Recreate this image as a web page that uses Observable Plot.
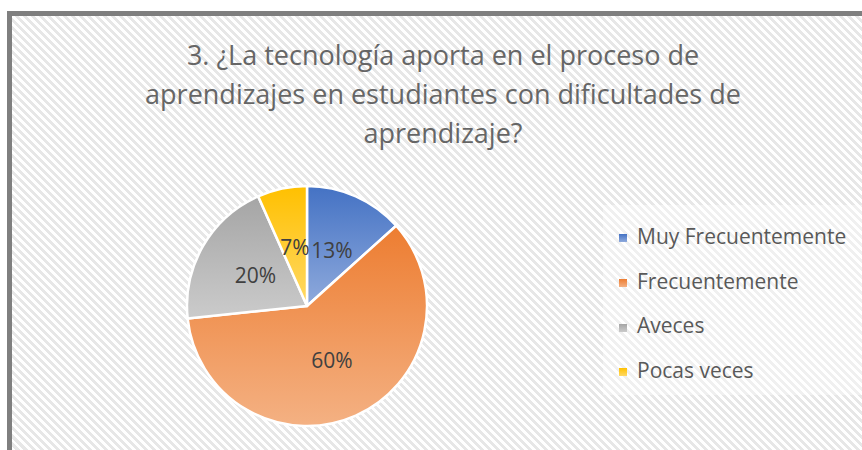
<!DOCTYPE html>
<html><head><meta charset="utf-8">
<script src="https://cdn.jsdelivr.net/npm/d3@7"></script>
<script src="https://cdn.jsdelivr.net/npm/@observablehq/plot@0.6"></script>
<style>
html,body{margin:0;padding:0;width:862px;height:450px;overflow:hidden;background:#fff;font-family:"Open Sans",sans-serif;}
#frame{position:absolute;left:7px;top:11px;width:900px;height:500px;box-sizing:border-box;border:5px solid #7f7f7f;
 background:repeating-linear-gradient(45deg,#ffffff 0px,#ffffff 2.8px,#e7e7e7 2.8px,#e7e7e7 5.66px);}
#title{position:absolute;left:0;top:35px;width:886px;text-align:center;font-size:27px;line-height:39px;color:#666666;white-space:nowrap;}
#legbox{position:absolute;left:603px;top:205px;width:300px;height:190px;background:rgba(255,255,255,0.4);}
.item{position:absolute;left:619px;height:44.7px;line-height:44.7px;font-size:21px;color:#595959;white-space:nowrap;}
.sw{display:inline-block;width:8px;height:8px;margin-right:10px;vertical-align:middle;}
#chart{position:absolute;left:0;top:0;}
</style></head>
<body>
<div id="frame"></div>
<div id="title"></div>
<div id="legbox"></div>
<div id="legend"></div>
<div id="chart"></div>
<script>
const titleLines = ["3. ¿La tecnología aporta en el proceso de", "aprendizajes en estudiantes con dificultades de", "aprendizaje?"];
const categories = ["Muy Frecuentemente", "Frecuentemente", "Aveces", "Pocas veces"];
const counts = [2, 9, 3, 1];
const baseColors = ["#4472C4", "#ED7D31", "#A5A5A5", "#FFC000"];
const lightColors = ["#8FAADC", "#F4B183", "#CBCBCB", "#FFD966"];

document.getElementById("title").innerHTML = titleLines.join("<br>");

const color = Plot.scale({color: {type: "ordinal", domain: categories, range: baseColors}});
const light = Plot.scale({color: {type: "ordinal", domain: categories, range: lightColors}});
const total = d3.sum(counts);
const arcs = d3.pie().sort(null).value(d => d.count)(categories.map((c, i) => ({category: c, count: counts[i]})));
const slices = arcs.map(a => ({
  category: a.data.category, count: a.data.count,
  start: a.startAngle, end: a.endAngle, mid: (a.startAngle + a.endAngle) / 2,
  pct: Math.round(a.data.count / total * 100) + "%"
}));

const NS = "http://www.w3.org/2000/svg";
function pieMark(index, scales) {
  const g = document.createElementNS(NS, "g");
  const defs = document.createElementNS(NS, "defs");
  g.appendChild(defs);
  const cx = scales.x(0), cy = scales.y(0), r = scales.x(1) - scales.x(0);
  const arc = d3.arc().innerRadius(0).outerRadius(r);
  slices.forEach((s, i) => {
    const lg = document.createElementNS(NS, "linearGradient");
    lg.setAttribute("id", "sliceGrad" + i);
    lg.setAttribute("x1", "0"); lg.setAttribute("y1", "0");
    lg.setAttribute("x2", "0"); lg.setAttribute("y2", "1");
    [[0, color.apply(s.category)], [1, light.apply(s.category)]].forEach(([o, c]) => {
      const st = document.createElementNS(NS, "stop");
      st.setAttribute("offset", o); st.setAttribute("stop-color", c);
      lg.appendChild(st);
    });
    defs.appendChild(lg);
    const p = document.createElementNS(NS, "path");
    p.setAttribute("d", arc({startAngle: s.start, endAngle: s.end}));
    p.setAttribute("transform", `translate(${cx},${cy})`);
    p.setAttribute("fill", `url(#sliceGrad${i})`);
    p.setAttribute("stroke", "#ffffff");
    p.setAttribute("stroke-width", "2.5");
    p.setAttribute("stroke-linejoin", "round");
    g.appendChild(p);
  });
  return g;
}

const chart = Plot.plot({
  width: 862, height: 450,
  marginLeft: 187, marginRight: 435, marginTop: 186, marginBottom: 24,
  x: {domain: [-1, 1], axis: null},
  y: {domain: [-1, 1], axis: null},
  style: {background: "transparent", fontFamily: "Open Sans", overflow: "visible"},
  marks: [
    pieMark,
    Plot.text(slices, {
      x: d => 0.5 * Math.sin(d.mid), y: d => 0.5 * Math.cos(d.mid),
      text: "pct", fontSize: 21, fill: "#404040"
    })
  ]
});
document.getElementById("chart").appendChild(chart);

const legend = document.getElementById("legend");
categories.forEach((c, i) => {
  const item = document.createElement("div");
  item.className = "item";
  item.style.top = (214 + i * 44.7) + "px";
  const sw = document.createElement("span");
  sw.className = "sw";
  sw.style.background = `linear-gradient(${color.apply(c)}, ${light.apply(c)})`;
  item.appendChild(sw);
  item.appendChild(document.createTextNode(c));
  legend.appendChild(item);
});
</script>
</body></html>
